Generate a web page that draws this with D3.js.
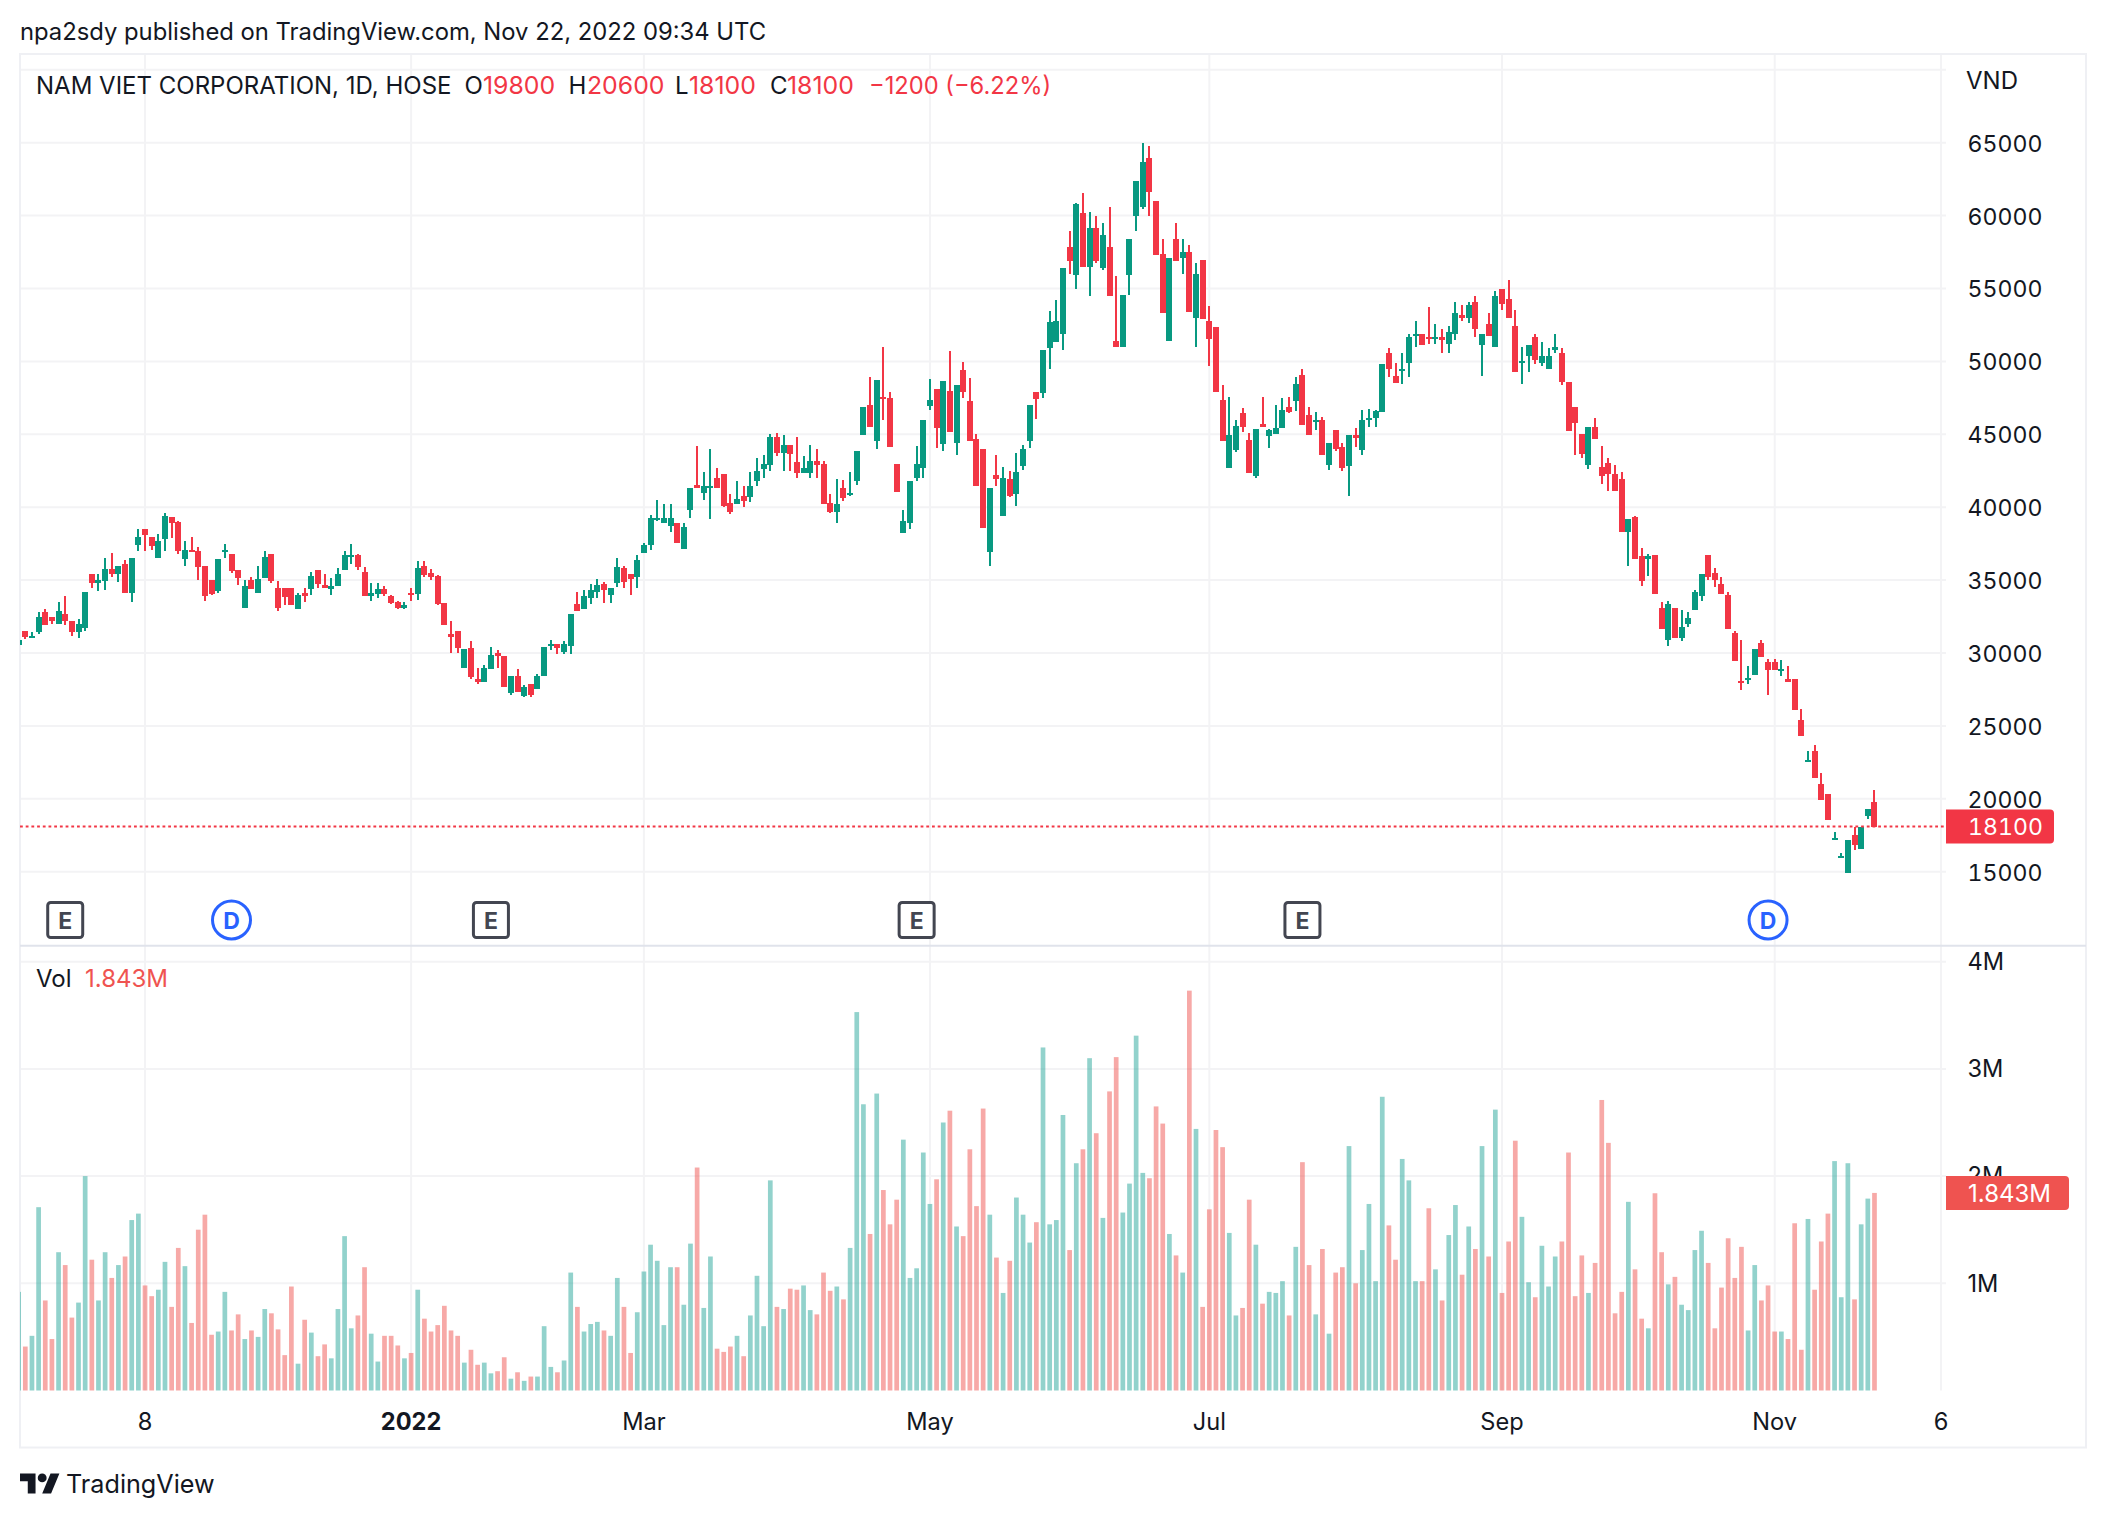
<!DOCTYPE html>
<html>
<head>
<meta charset="utf-8">
<title>NAM VIET CORPORATION, 1D, HOSE</title>
<script src="https://cdn.jsdelivr.net/npm/d3@7"></script>
<style>
    html, body { margin: 0; padding: 0; background: #ffffff; }
    svg { display: block; }
    text { font-family: Inter, "Noto Sans", sans-serif; }
    .tnum { font-variant-numeric: tabular-nums; font-feature-settings: "tnum" 1; }
</style>
</head>
<body>
<div id="chart"></div>
<script>
/* Daily candles and volume, one value per session */
var open = [
    30550,31500,31100,31450,32800,32450,32000,32650,32200,31450,
    31700,35400,34800,34950,35750,35400,36100,34100,37400,38500,
    37950,36500,37800,39350,39000,36450,37050,37000,35950,35000,
    34250,36900,36800,35700,33100,35000,34100,35150,36800,34450,
    34450,34450,33000,34100,34400,35700,34650,34400,34600,35700,
    36650,36700,35550,33900,34050,34400,33900,33500,33100,34100,
    34050,35950,35500,35300,33400,31300,31500,29000,30350,28200,
    28000,28900,30000,29800,27250,28400,27050,27850,27500,28400,
    30550,30600,30100,30500,33350,33000,33800,34200,34750,34000,
    34800,35800,35450,35200,36850,37400,39100,38950,38700,38950,
    37100,39800,41500,40950,41300,42000,42250,40300,40200,40750,
    40700,41800,42600,42900,44800,43700,44250,43100,42350,42350,
    43150,42950,40300,39700,41300,40900,41800,44950,47000,44550,
    47550,47500,42950,38200,38950,42000,42700,46950,48100,44350,
    47950,44400,49400,47300,44650,44000,36900,42200,39400,41900,
    40900,42800,44550,47900,47850,50900,51350,51900,57850,55950,
    60200,56500,59150,56400,57850,51400,51000,55950,59950,60600,
    63950,61000,57350,51400,58400,57100,57500,53000,56950,52800,
    52350,47350,42700,43950,46450,44600,42150,45700,44900,45050,
    45450,46900,47300,49100,46300,45850,46000,42900,45300,44100,
    42850,44950,43950,45950,46150,46550,50550,49000,49450,49900,
    51750,51850,51700,51550,51650,51200,51850,53200,53000,54050,
    51150,52550,51000,55000,54250,52400,49900,50350,51700,49900,
    49500,50800,50600,48600,46900,45050,42900,45500,42750,43000,
    42250,41900,38300,39300,36650,36450,36750,33100,30900,33100,
    31050,32000,32950,33900,36750,35500,34750,34000,31400,28100,
    28150,28500,30700,29350,29400,28850,28250,28250,25400,22600,
    23250,21000,20350,17200,16000,14900,17500,16550,18850,19800
];
var high = [
    30900,31500,31450,32800,33000,32450,33500,33900,32200,32300,
    34200,35400,35400,36500,36850,35950,36350,36500,38500,38500,
    37950,38150,39600,39350,39050,37700,37950,37250,35950,35000,
    36450,37450,36800,35700,35000,35200,35950,37000,36800,34950,
    34450,34450,34100,34450,35550,35700,35400,35150,35800,37000,
    37450,36800,35900,34800,34800,34600,33950,33550,33500,34450,
    36300,36300,35750,35350,33400,32200,31500,30250,30800,28950,
    29150,30400,30200,29800,28450,28900,27800,27850,28550,30400,
    30900,30650,30850,32650,34150,34300,34750,35050,34850,34450,
    36500,35950,35450,36700,37550,39450,40500,40200,40200,38950,
    38950,41300,44200,42400,44000,42700,42250,40900,41800,41450,
    42400,43350,43550,45000,45100,44950,44250,44800,43500,44250,
    44000,43150,40900,41900,41850,42400,43850,46850,48950,48700,
    51000,47900,42950,39800,41800,44200,46000,48800,48100,48650,
    50700,48400,49950,48850,45000,44000,41300,43550,42750,42450,
    43700,44250,47000,47900,50800,53450,54200,56400,58950,60850,
    61550,60250,59950,59500,60600,55850,54550,58400,62350,65000,
    64750,61000,58400,57100,59500,58400,58000,56750,56950,53800,
    52350,48400,47550,46000,46800,45100,45350,47550,45350,47000,
    47500,47550,48950,49500,46850,46500,46200,44400,45300,44400,
    44950,45400,46700,46750,46700,49850,50900,49900,50550,51900,
    52800,51850,53700,52550,52200,52400,54050,53900,54050,54500,
    51900,53300,54800,55000,55600,53500,51000,51100,51900,51300,
    50900,51900,50900,48600,46900,45050,45500,46150,44200,43400,
    42900,42400,39200,39400,37200,36800,36750,33500,33550,33100,
    32950,32800,34350,35450,36750,35800,35200,34150,31500,30900,
    29100,30300,30900,29600,29600,29550,29100,28250,26150,23250,
    23700,21800,20350,17700,16300,17150,18100,18100,19300,20600
];
var low = [
    30550,30950,31000,31300,31900,32000,32000,31900,31150,31000,
    31500,34450,34250,34300,35200,34850,34100,33500,37000,37000,
    37050,36500,37000,37900,36800,35950,36900,35000,33550,33950,
    34100,36500,35500,34650,33100,34400,34100,35150,34800,32850,
    33300,33300,33000,33500,33950,34450,34450,33950,34600,35700,
    36100,35700,33900,33550,33750,33900,33350,33000,33000,33550,
    33650,35200,35000,33300,31900,30000,30000,29000,28200,27850,
    28000,28900,28950,27700,27150,27300,26950,26950,27500,28400,
    30200,29900,29900,29950,32850,33000,33350,33750,33450,33450,
    34550,34450,33950,34450,36850,37050,39050,38950,38300,37550,
    37100,39250,41350,40500,39200,41350,40000,39500,40200,40000,
    40350,41450,42000,42450,43500,42450,42450,42000,42350,42000,
    42000,40200,39600,38900,40400,40800,41500,44950,45500,44000,
    46000,44100,41050,38200,38500,41800,42000,46650,44050,43850,
    45150,43550,47500,44550,41450,38550,35950,41450,39400,40700,
    40050,42550,44050,46050,47500,49500,51350,50800,56000,54950,
    56500,54500,56750,56250,54500,51000,51000,54550,58950,60450,
    59950,57300,53300,51400,56900,56000,53400,51000,52900,49700,
    47900,44550,42700,43800,45150,42350,42000,45500,44050,45050,
    45450,46450,46600,45650,44950,45300,43550,42550,43850,42500,
    40800,44100,43600,45500,45500,46550,48900,48550,48450,48900,
    51000,51100,51200,51200,50550,50600,51500,52800,52600,51700,
    49000,51750,51000,53500,52950,49250,48450,49250,49800,49700,
    49500,50550,48400,45250,43550,43350,42650,44650,41600,41100,
    41100,38300,35950,36450,34600,35300,34050,31650,30500,31050,
    30800,31800,32950,33550,35000,34500,34050,31650,29450,27450,
    27900,28500,29700,27100,28850,28400,28000,26100,24300,22500,
    21450,19900,18550,17150,15950,14900,16500,16550,18600,18100
];
var close = [
    30900,31100,31150,32450,31900,32200,32850,32200,31450,32000,
    34200,34800,35000,35750,35400,35950,34100,36500,37950,38100,
    37350,37700,39400,38900,37000,37050,36900,35900,33900,34050,
    36450,37050,35600,35150,34600,34400,35050,36600,34950,33100,
    33850,33300,33950,33900,35300,34750,34450,34600,35400,36700,
    36700,35900,33900,34100,34400,34050,33400,33100,33300,34050,
    35800,35350,35200,33350,31900,31100,30350,30250,28350,28000,
    28950,29850,29800,27700,28400,27350,27650,27100,28450,30400,
    30600,30350,30600,32650,32900,33900,34300,34650,34350,34450,
    35900,34900,35100,36350,37400,39250,39250,39250,39250,37550,
    38650,41300,41350,41450,41450,41350,40050,39700,40550,40400,
    41450,42450,42950,44800,43700,44250,43650,42350,42700,43150,
    42900,40200,39700,40200,40600,40950,43850,46850,45500,48700,
    47400,44100,41050,39050,41800,42950,46000,47350,45450,48650,
    45150,48400,47900,44550,41450,38550,41300,41900,42000,40750,
    42400,44000,47000,47400,50800,52700,52800,56400,56900,60800,
    56500,59150,56900,58650,54500,51000,54550,58400,62350,63700,
    61600,57300,53300,57100,56900,57500,53400,56000,52900,51550,
    47900,44550,44950,45600,45500,42350,45350,45500,45300,45450,
    46650,46550,48450,45650,44950,45950,43550,44400,44000,42700,
    44950,44750,46000,46150,46600,49850,49450,48550,49500,51650,
    51850,51150,51550,51650,51450,52000,53300,53000,53900,52250,
    51900,51750,54500,53950,52950,49250,50000,51100,50100,50400,
    50350,51000,48600,45250,45750,43650,45500,44650,42150,42250,
    41100,38300,39200,36450,34950,36650,34050,31650,33350,31050,
    31800,32400,34200,35450,35200,35000,34050,31650,29450,27950,
    28300,30300,29700,28850,28850,28900,28000,26100,24300,22650,
    21450,19900,18550,17300,16050,17150,16800,18100,19300,18100
];
//Volume in millions
var volume = [
    .92,.41,.51,1.71,.84,.48,1.29,1.17,.68,.82,
    2.00,1.22,.84,1.29,1.05,1.17,1.25,1.59,1.65,.98,
    .88,.94,1.20,.78,1.33,1.16,.63,1.50,1.64,.52,
    .55,.92,.56,.71,.48,.56,.50,.76,.72,.57,
    .33,.97,.25,.66,.54,.32,.43,.30,.76,1.44,
    .58,.70,1.15,.53,.27,.51,.51,.42,.30,.35,
    .94,.67,.55,.61,.79,.56,.51,.26,.38,.24,
    .26,.16,.18,.31,.11,.17,.09,.13,.13,.60,
    .22,.17,.28,1.10,.78,.55,.62,.64,.56,.51,
    1.05,.78,.35,.73,1.11,1.36,1.21,.61,1.15,1.15,
    .80,1.37,2.08,.77,1.25,.39,.36,.41,.51,.32,
    .70,1.07,.60,1.96,.78,.76,.95,.94,.98,.75,
    .71,1.10,.93,.97,.85,1.33,3.53,2.67,1.46,2.77,
    1.87,1.55,1.78,2.34,1.05,1.14,2.22,1.74,1.97,2.50,
    2.61,1.53,1.44,2.25,1.72,2.63,1.64,1.24,.91,1.21,
    1.80,1.64,1.38,1.57,3.20,1.55,1.59,2.57,1.31,2.12,
    2.25,3.10,2.40,1.61,2.79,3.11,1.66,1.93,3.31,2.03,
    1.98,2.65,2.49,1.46,1.26,1.10,3.73,2.44,.78,1.69,
    2.43,2.27,1.47,.70,.77,1.78,1.36,.81,.92,.91,
    1.02,.70,1.34,2.13,1.17,.71,1.32,.53,1.10,1.15,
    2.28,1.00,1.31,1.74,1.02,2.74,1.54,1.22,2.16,1.96,
    1.02,1.02,1.70,1.13,.84,1.45,1.73,1.08,1.53,1.32,
    2.28,1.25,2.62,.91,1.39,2.33,1.62,1.01,.87,1.35,
    .97,1.25,1.39,2.22,.88,1.26,.91,1.19,2.71,2.31,
    .72,.92,1.76,1.13,.67,.58,1.84,1.29,.99,1.06,
    .80,.75,1.31,1.49,1.19,.58,.96,1.42,1.05,1.34,
    .56,1.17,.84,.98,.55,.55,.48,1.56,.38,1.60,
    .94,1.39,1.65,2.14,.87,2.12,.85,1.55,1.79,1.843
];

//Axis ticks, the time ticks are session numbers
var timeTicks = [19, 59, 94, 137, 179, 223, 264, 289];
var timeLabels = ["8", "2022", "Mar", "May", "Jul", "Sep", "Nov", "6"];
var priceTicks = [15000, 20000, 25000, 30000, 35000, 40000, 45000, 50000, 55000, 60000, 65000];
var priceGrid = priceTicks.concat([70000]);
var volumeTicks = [1, 2, 3, 4];

//Sessions with an earnings or a dividend flag
var earnings = [7, 71, 135, 193];
var dividends = [32, 263];

//Legend line pieces
var legendParts = [
    ["NAM VIET CORPORATION, 1D, HOSE", 36, "#131722"],
    ["O", 464.5, "#131722"], ["19800", 483, "#F23645"],
    ["H", 568.5, "#131722"], ["20600", 587, "#F23645"],
    ["L", 675, "#131722"], ["18100", 689, "#F23645"],
    ["C", 770, "#131722"], ["18100", 787, "#F23645"],
    ["\u22121200 (\u22126.22%)", 869, "#F23645"]
];

var lastPrice = 18100;
var lastVolume = 1.843;

var upColor = "#089981", downColor = "#F23645";
var volUp = "rgba(38,166,154,0.5)", volDown = "rgba(239,83,80,0.5)";
var gridColor = "#f3f3f5", borderColor = "#eff0f4";
var fontSize = 24, digitSize = 23.1;

function createChart(){
    var svg = d3.select("#chart").append("svg")
        .attr("width", 2106)
        .attr("height", 1518);

    svg.append("rect").attr("width", 2106).attr("height", 1518).attr("fill", "#ffffff");

    //Scales
    var x = d3.scaleLinear().domain([0, 289]).range([18.65, 1941]);
    var yPrice = d3.scaleLinear().domain([15000, 65000]).range([871.7, 142.7]);
    var yVol = d3.scaleLinear().domain([0, 4]).range([1390.5, 961.7]);

    var left = 20, gridRight = 1946, right = 2086, top = 54, bottom = 1447.5, sep = 945.7;

    //Horizontal grid
    svg.append("g").selectAll("line").data(priceGrid).join("line")
        .attr("x1", left).attr("x2", gridRight)
        .attr("y1", function(d){ return yPrice(d); })
        .attr("y2", function(d){ return yPrice(d); })
        .attr("stroke", gridColor).attr("stroke-width", 2);
    svg.append("g").selectAll("line").data(volumeTicks).join("line")
        .attr("x1", left).attr("x2", gridRight)
        .attr("y1", function(d){ return yVol(d); })
        .attr("y2", function(d){ return yVol(d); })
        .attr("stroke", gridColor).attr("stroke-width", 2);

    //Vertical grid
    svg.append("g").selectAll("line").data(timeTicks).join("line")
        .attr("x1", function(d){ return x(d); })
        .attr("x2", function(d){ return x(d); })
        .attr("y1", top).attr("y2", yVol(0))
        .attr("stroke", gridColor).attr("stroke-width", 2);

    //Frame and the line between the panes
    svg.append("rect")
        .attr("x", left).attr("y", top)
        .attr("width", right - left).attr("height", bottom - top)
        .attr("fill", "none").attr("stroke", borderColor).attr("stroke-width", 2);
    svg.append("line")
        .attr("x1", left).attr("x2", right).attr("y1", sep).attr("y2", sep)
        .attr("stroke", "#e0e3eb").attr("stroke-width", 2);

    svg.append("clipPath").attr("id", "pane").append("rect")
        .attr("x", left).attr("y", top)
        .attr("width", gridRight - left).attr("height", bottom - top);

    var index = d3.range(close.length);
    var isUp = function(i){ return close[i] >= open[i]; };

    //Volume bars
    svg.append("g").attr("clip-path", "url(#pane)")
        .selectAll("rect").data(index).join("rect")
        .attr("x", function(i){ return x(i) - 2.35; })
        .attr("width", 4.7)
        .attr("y", function(i){ return yVol(volume[i]); })
        .attr("height", function(i){ return yVol(0) - yVol(volume[i]); })
        .attr("fill", function(i){ return isUp(i) ? volUp : volDown; });

    //Candles
    var candles = svg.append("g").attr("clip-path", "url(#pane)")
        .attr("shape-rendering", "crispEdges")
        .selectAll("g").data(index).join("g")
        .attr("fill", function(i){ return isUp(i) ? upColor : downColor; });
    candles.append("rect")
        .attr("x", function(i){ return x(i) - 1; })
        .attr("width", 2)
        .attr("y", function(i){ return yPrice(high[i]); })
        .attr("height", function(i){ return yPrice(low[i]) - yPrice(high[i]); });
    candles.append("rect")
        .attr("x", function(i){ return x(i) - 3; })
        .attr("width", 6)
        .attr("y", function(i){ return yPrice(Math.max(open[i], close[i])); })
        .attr("height", function(i){ return Math.max(2, Math.abs(yPrice(open[i]) - yPrice(close[i]))); });

    //Last price dotted line
    svg.append("line")
        .attr("x1", left).attr("x2", gridRight)
        .attr("y1", yPrice(lastPrice)).attr("y2", yPrice(lastPrice))
        .attr("stroke", downColor).attr("stroke-width", 2)
        .attr("stroke-dasharray", "2.8 2.9");

    //Axes
    var priceAxis = d3.axisRight(yPrice).tickValues(priceTicks).tickSize(0).tickPadding(21.5)
        .tickFormat(d3.format("d"));
    var volAxis = d3.axisRight(yVol).tickValues(volumeTicks).tickSize(0).tickPadding(21.5)
        .tickFormat(function(d){ return d + "M"; });
    var timeAxis = d3.axisBottom(x).tickValues(timeTicks).tickSize(0).tickPadding(0)
        .tickFormat(function(d){ return timeLabels[timeTicks.indexOf(d)]; });

    svg.append("g").attr("class", "axis price").attr("transform", "translate(" + gridRight + ",1)").call(priceAxis);
    svg.append("g").attr("class", "axis").attr("transform", "translate(" + gridRight + ",0.3)").call(volAxis);
    svg.append("g").attr("class", "axis").attr("transform", "translate(-0.5,1413)").call(timeAxis);
    svg.selectAll(".axis .domain").remove();
    svg.selectAll(".axis text")
        .attr("font-family", "Inter, sans-serif")
        .attr("font-size", 23.6)
        .attr("fill", "#131722");
    svg.selectAll(".price text").attr("class", "tnum").attr("font-size", digitSize);
    svg.selectAll(".axis text").filter(function(d){ return timeLabels[timeTicks.indexOf(d)] == "2022"; })
        .attr("font-weight", 700);

    svg.append("text").attr("x", 1966).attr("y", 88.5)
        .attr("font-size", fontSize).attr("fill", "#131722").text("VND");

    //Last value labels on the axis
    labelBox(svg, yPrice(lastPrice), 2054, downColor, d3.format("d")(lastPrice), true);
    labelBox(svg, yVol(lastVolume), 2069, "#EF5350", lastVolume + "M", false);

    //Earnings flags
    var eFlags = svg.append("g").selectAll("g").data(earnings).join("g")
        .attr("transform", function(d){ return "translate(" + x(d) + ",920)"; });
    eFlags.append("rect")
        .attr("x", -17.5).attr("y", -17.5).attr("width", 35).attr("height", 35).attr("rx", 3)
        .attr("fill", "#ffffff").attr("stroke", "#434651").attr("stroke-width", 3);
    eFlags.append("text")
        .attr("text-anchor", "middle").attr("y", 8.5)
        .attr("font-size", 23).attr("font-weight", 700).attr("fill", "#434651").text("E");

    //Dividend flags
    var dFlags = svg.append("g").selectAll("g").data(dividends).join("g")
        .attr("transform", function(d){ return "translate(" + x(d) + ",920)"; });
    dFlags.append("circle")
        .attr("r", 19).attr("fill", "#ffffff").attr("stroke", "#2962FF").attr("stroke-width", 3);
    dFlags.append("text")
        .attr("text-anchor", "middle").attr("y", 8.5)
        .attr("font-size", 23).attr("font-weight", 700).attr("fill", "#2962FF").text("D");

    //Title and legend lines
    svg.append("text").attr("x", 20).attr("y", 40)
        .attr("font-size", 23.8).attr("fill", "#131722")
        .text("npa2sdy published on TradingView.com, Nov 22, 2022 09:34 UTC");

    svg.append("g").selectAll("text").data(legendParts).join("text")
        .attr("x", function(d){ return d[1]; })
        .attr("y", 94)
        .attr("font-size", function(d){ return /^\d+$/.test(d[0]) ? 24.8 : (d[0].length > 12 && d[1] > 100 ? 23.7 : fontSize); })
        .attr("fill", function(d){ return d[2]; })
        .text(function(d){ return d[0]; });

    svg.append("text").attr("x", 36).attr("y", 987)
        .attr("font-size", fontSize).attr("fill", "#131722").text("Vol");
    svg.append("text").attr("x", 85).attr("y", 987)
        .attr("font-size", fontSize).attr("fill", "#EF5350").text(lastVolume + "M");

    //TradingView logo
    var logo = svg.append("g").attr("transform", "translate(20,1469) scale(1.11)").attr("fill", "#131722");
    logo.append("path").attr("d", "M14 22H7V11H0V4h14v18zM28 22h-8l7.5-18h8L28 22z");
    logo.append("circle").attr("cx", 20).attr("cy", 8).attr("r", 4);
    svg.append("text").attr("x", 66).attr("y", 1493)
        .attr("font-size", 25.2).attr("fill", "#131722").text("TradingView");
};

//Coloured box on the right axis with the last value in it
function labelBox(svg, y, boxRight, color, label, digits){
    var l = 1946, r = boxRight, h = 17;
    svg.append("path")
        .attr("d", "M" + l + "," + (y - h) + "H" + (r - 4) + "q4,0 4,4V" + (y + h - 4) + "q0,4 -4,4H" + l + "Z")
        .attr("fill", color);
    svg.append("text")
        .attr("x", 1968).attr("y", y + 8.7)
        .attr("class", digits ? "tnum" : null)
        .attr("font-size", digits ? digitSize : fontSize)
        .attr("fill", "#ffffff").text(label);
};

createChart();
</script>
</body>
</html>
